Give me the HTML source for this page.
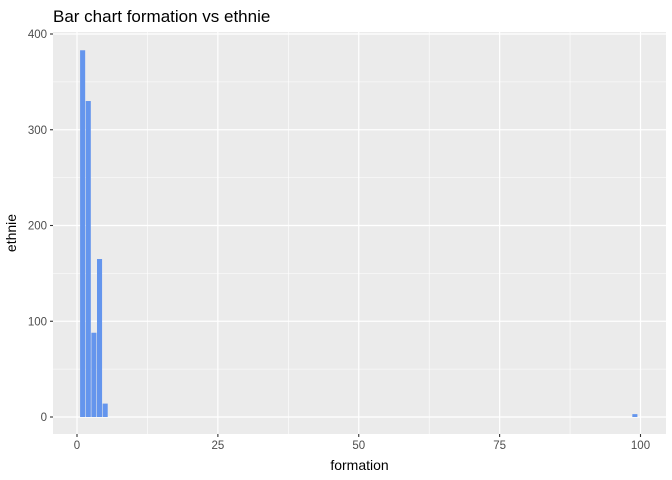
<!DOCTYPE html>
<html><head><meta charset="utf-8"><style>body{margin:0;background:#fff}svg{display:block;font-family:"Liberation Sans",Arial,sans-serif}</style></head>
<body>
<svg id="c" width="672" height="480" viewBox="0 0 672 480"></svg>
<script>
const categories=[1,2,3,4,5,99];
const values=[383,330,88,165,14,3];
const xTicks=[0,25,50,75,100];
const yTicks=[0,100,200,300,400];
const NS="http://www.w3.org/2000/svg";
const svg=document.getElementById('c');
const L=53,R=666,T=32,B=434;
const x0=77,xs=5.635;
const X=v=>x0+v*xs;
const y0=417,ys=(417-34)/400;
const Y=v=>y0-v*ys;
function mk(t,a,p){const e=document.createElementNS(NS,t);for(const k in a)e.setAttribute(k,a[k]);(p||svg).appendChild(e);return e;}
const panel=mk('rect',{x:L,y:T,width:R-L,height:B-T,fill:'#EBEBEB'});


const grid=mk('g',{});


for(let i=0;i<yTicks.length-1;i++){const m=(yTicks[i]+yTicks[i+1])/2;mk('line',{x1:L,x2:R,y1:Y(m),y2:Y(m),stroke:'#fff','stroke-width':0.6},grid);}
for(let i=0;i<xTicks.length-1;i++){const m=(xTicks[i]+xTicks[i+1])/2;mk('line',{y1:T,y2:B,x1:X(m),x2:X(m),stroke:'#fff','stroke-width':0.6},grid);}
yTicks.forEach(v=>{mk('line',{x1:L,x2:R,y1:Y(v),y2:Y(v),stroke:'#fff','stroke-width':1.2},grid);
 mk('line',{x1:L-3,x2:L,y1:Y(v),y2:Y(v),stroke:'#333','stroke-width':1.1});
 const t=mk('text',{x:L-6,y:Y(v)+4,'text-anchor':'end','font-size':11.5,fill:'#4D4D4D'});t.textContent=v;
 
 });
xTicks.forEach(v=>{mk('line',{y1:T,y2:B,x1:X(v),x2:X(v),stroke:'#fff','stroke-width':1.2},grid);
 mk('line',{y1:B,y2:B+3,x1:X(v),x2:X(v),stroke:'#333','stroke-width':1.1});
 const t=mk('text',{x:X(v),y:B+15,'text-anchor':'middle','font-size':11.5,fill:'#4D4D4D'});t.textContent=v;
 
 });
categories.forEach((c,i)=>{const w=0.9*xs;
 const r=mk('rect',{x:X(c)-w/2,y:Y(values[i]),width:w,height:Y(0)-Y(values[i]),fill:'#6495ED'});
 
 });
const title=mk('text',{x:L,y:22,'font-size':17,fill:'#000'});title.textContent='Bar chart formation vs ethnie';


const xt=mk('text',{x:(L+R)/2,y:470,'text-anchor':'middle','font-size':14,fill:'#000'});xt.textContent='formation';


const yt=mk('text',{x:0,y:0,'text-anchor':'middle','font-size':14,fill:'#000',transform:`translate(16,${(T+B)/2}) rotate(-90)`});yt.textContent='ethnie';


</script>
</body></html>
